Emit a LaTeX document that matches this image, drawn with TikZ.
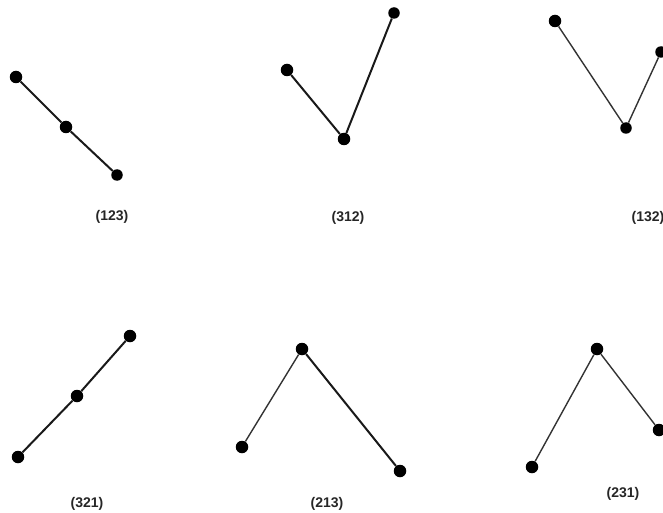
\documentclass[tikz,border=0pt]{standalone}
\usepackage{fontspec}
\setmainfont{Liberation Sans}
\begin{document}
\begin{tikzpicture}[x=1pt,y=-1pt,
  dot/.style={circle,fill=black,inner sep=0pt,minimum size=12.5pt},
  seg/.style={line width=2pt,black!90},
  thinseg/.style={line width=1.4pt,black!80},
  lbl/.style={font=\bfseries\fontsize{14}{16}\selectfont,text=black!85,inner sep=0pt}]
\useasboundingbox (0,0) rectangle (663,513);
% (123)
\node[dot] (a1) at (16,77) {};
\node[dot] (a2) at (66,127) {};
\node[dot,minimum size=11.5pt] (a3) at (117,175) {};
\draw[seg] (a1) -- (a2) -- (a3);
\node[lbl] (la) at (112,217) {(123)};
% (312)
\node[dot] (b1) at (287,70) {};
\node[dot] (b2) at (344,139) {};
\node[dot,minimum size=11.5pt] (b3) at (394,13) {};
\draw[seg] (b1) -- (b2) -- (b3);
\node[lbl] (lb) at (348,218) {(312)};
% (132)
\node[dot] (c1) at (555,21) {};
\node[dot,minimum size=11.5pt] (c2) at (626,128) {};
\node[dot,minimum size=11.5pt] (c3) at (661,52) {};
\draw[thinseg] (c1) -- (c2) -- (c3);
\node[lbl] (lc) at (648,218) {(132)};
% (321)
\node[dot] (d1) at (18,457) {};
\node[dot] (d2) at (77,396) {};
\node[dot] (d3) at (130,336) {};
\draw[seg] (d1) -- (d2) -- (d3);
\node[lbl] (ld) at (87,504) {(321)};
% (213)
\node[dot] (e1) at (242,447) {};
\node[dot] (e2) at (302,349) {};
\node[dot] (e3) at (400,471) {};
\draw[thinseg] (e1) -- (e2);
\draw[seg] (e2) -- (e3);
\node[lbl] (le) at (327,504) {(213)};
% (231)
\node[dot] (f1) at (532,467) {};
\node[dot] (f2) at (597,349) {};
\node[dot] (f3) at (659,430) {};
\draw[thinseg] (f1) -- (f2) -- (f3);
\node[lbl] (lf) at (623,494) {(231)};
\end{tikzpicture}
\end{document}
